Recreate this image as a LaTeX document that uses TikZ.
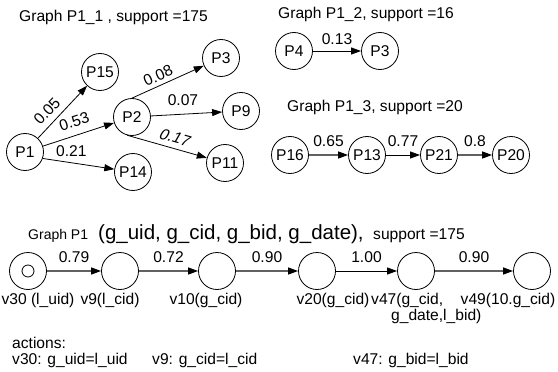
\documentclass[tikz,border=0pt]{standalone}
\usepackage{fontspec}
\setmainfont{Liberation Sans}
\usetikzlibrary{arrows.meta}
\tikzset{
  txt/.style={font=\fontsize{15.6}{17}\selectfont, inner sep=0pt},
  pnode/.style={circle, draw, line width=0.8pt, minimum size=37pt, inner sep=0pt, font=\fontsize{15.6}{17}\selectfont},
  vnode/.style={circle, draw, line width=0.8pt, minimum size=37pt, inner sep=0pt},
  dot/.style={circle, draw, line width=0.8pt, minimum size=12pt, inner sep=0pt},
  edge/.style={line width=0.8pt, -{Triangle[length=10pt,width=7pt]}},
  softedge/.style={edge, draw=black!62, line width=1.2pt, -{Triangle[length=10pt,width=7pt,color=black]}},
  wt/.style={font=\fontsize{15.6}{17}\selectfont, inner sep=0pt, above=#1},
  wt/.default=15pt,
}
\begin{document}
\begin{tikzpicture}[x=1pt,y=-1pt]
\useasboundingbox (0,0) rectangle (558,372);

% ---- Graph P1_1
\node[txt, anchor=west] (t1) at (19,17) {Graph P1\_1 , support =175};
\node[pnode] (a1) at (25,152) {P1};
\node[pnode] (a15) at (100,72) {P15};
\node[pnode] (a2) at (132,117) {P2};
\node[pnode] (a3) at (221,58) {P3};
\node[pnode] (a9) at (241,111) {P9};
\node[pnode] (a14) at (133,172) {P14};
\node[pnode] (a11) at (225,163) {P11};

\draw[edge] (a1) -- (a15) node[pos=0.36, sloped, wt=6pt] {0.05};
\draw[edge] (a1) -- (a2) node[pos=0.5, sloped, wt=8pt] {0.53};
\draw[edge] (a1.-20) -- (a14) node[pos=0.4, wt=6pt] {0.21};
\draw[edge] (a2.north) -- (a3) node[pos=0.42, sloped, wt=4pt] {0.08};
\draw[edge] (a2) -- (a9) node[pos=0.45, wt=8pt] {0.07};
\draw[edge] (a2.-105) -- (a11) node[pos=0.55, sloped, wt=5pt, xslant=0.25] {0.17};

% ---- Graph P1_2
\node[txt, anchor=west] (t2) at (278,14) {Graph P1\_2, support =16};
\node[pnode] (b4) at (294,51) {P4};
\node[pnode] (b3) at (380,51) {P3};
\draw[edge] (b4) -- (b3) node[midway, wt=6pt] {0.13};

% ---- Graph P1_3
\node[txt, anchor=west] (t3) at (287,107) {Graph P1\_3, support =20};
\node[pnode] (c16) at (290,155) {P16};
\node[pnode] (c13) at (367,155) {P13};
\node[pnode] (c21) at (439,155) {P21};
\node[pnode] (c20) at (511,155) {P20};
\draw[softedge] (c16) -- (c13) node[midway, wt=8pt] {0.65};
\draw[edge] (c13) -- (c21) node[midway, wt=8pt] {0.77};
\draw[softedge] (c21) -- (c20) node[midway, wt=8pt] {0.8};

% ---- Graph P1
\node[anchor=base west, inner sep=0pt, font=\fontsize{14}{16}\selectfont] (t4) at (28,239) {Graph P1};
\node[anchor=base west, inner sep=0pt, font=\fontsize{20.5}{22}\selectfont] (t5) at (98,239) {(g\_uid, g\_cid, g\_bid, g\_date),};
\node[txt, anchor=base west] (t6) at (373,239) {support =175};

\node[vnode] (v30) at (28,271) {};
\node[dot] (v30in) at (v30) {};
\node[vnode] (v9) at (120,271) {};
\node[vnode] (v10) at (217,271) {};
\node[vnode] (v20) at (317,271) {};
\node[vnode] (v47) at (416,271) {};
\node[vnode] (v49) at (532,271) {};

\draw[softedge] (v30) -- (v9) node[midway, wt=8pt] {0.79};
\draw[softedge] (v9) -- (v10) node[midway, wt=8pt] {0.72};
\draw[softedge] (v10) -- (v20) node[midway, wt=8pt] {0.90};
\draw[edge] (v20) -- (v47) node[midway, wt=8pt] {1.00};
\draw[softedge] (v47) -- (v49) node[midway, wt=8pt] {0.90};

\node[txt] (l30) at (38,300) {v30 (l\_uid)};
\node[txt] (l9) at (110,300) {v9(l\_cid)};
\node[txt] (l10) at (206,300) {v10(g\_cid)};
\node[txt] (l20) at (333,300) {v20(g\_cid)};
\node[txt, anchor=west] (l47a) at (371,300) {v47(g\_cid,};
\node[txt, anchor=west] (l47b) at (391,316) {g\_date,l\_bid)};
\node[txt] (l49) at (508,300) {v49(10.g\_cid)};

% ---- actions
\node[txt, anchor=west] (act) at (12,343) {actions:};
\node[txt, anchor=west] (act1) at (12,360) {v30: g\_uid=l\_uid};
\node[txt, anchor=west] (act2) at (152,360) {v9: g\_cid=l\_cid};
\node[txt, anchor=west] (act3) at (353,360) {v47: g\_bid=l\_bid};
\end{tikzpicture}
\end{document}
